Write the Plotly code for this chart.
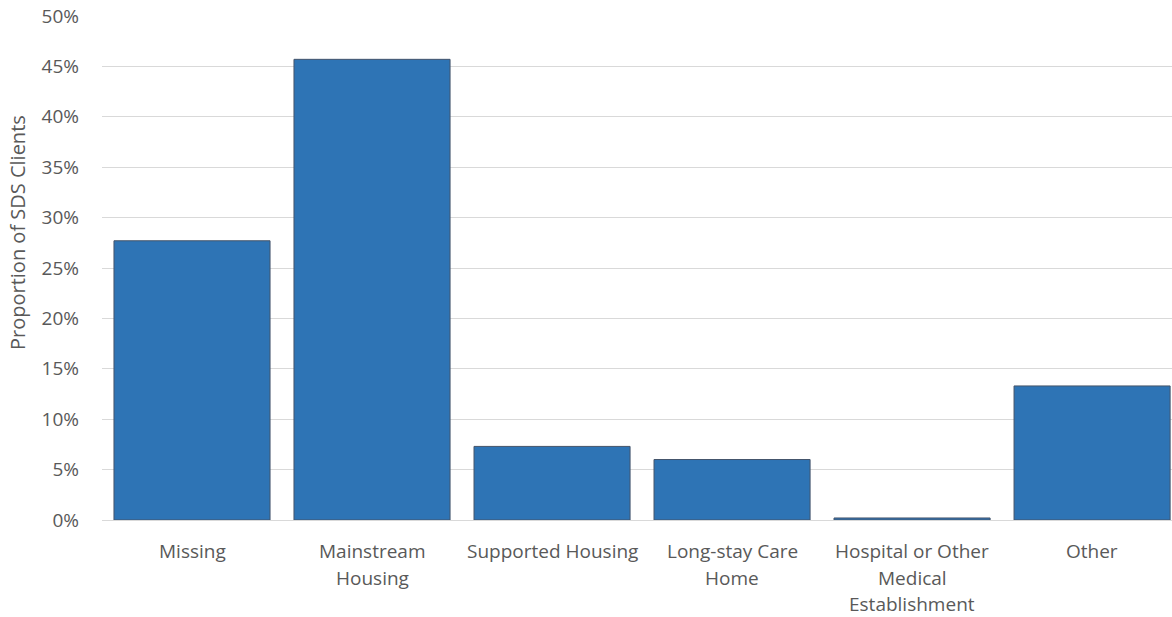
import plotly.graph_objects as go

# Accommodation type of SDS clients
categories = ["Missing", "Mainstream Housing", "Supported Housing",
              "Long-stay Care Home", "Hospital or Other Medical Establishment", "Other"]
label_lines = [["Missing"], ["Mainstream", "Housing"], ["Supported Housing"],
               ["Long-stay Care", "Home"], ["Hospital or Other", "Medical", "Establishment"],
               ["Other"]]
proportions = [0.277, 0.457, 0.073, 0.060, 0.002, 0.133]
y_ticks = [0, 0.05, 0.10, 0.15, 0.20, 0.25, 0.30, 0.35, 0.40, 0.45, 0.50]
y_tick_text = ["0%", "5%", "10%", "15%", "20%", "25%", "30%", "35%", "40%", "45%", "50%"]
y_title = "Proportion of SDS Clients"

FONT = "Open Sans"
TXT = "#595959"
SIZE = 19

TOP, BOTTOM, LEFT = 16, 97, 102
plot_h = 617 - TOP - BOTTOM

fig = go.Figure(go.Bar(
    x=categories,
    y=proportions,
    marker=dict(color="#2e74b5", line=dict(color="#44546a", width=1)),
    showlegend=False,
))

# Category labels, one annotation per line for wider line spacing
annotations = []
for cat, lines in zip(categories, label_lines):
    for i, line in enumerate(lines):
        annotations.append(dict(
            x=cat, xref="x", y=(-31 - 26.5 * i) / plot_h, yref="paper",
            text=line, showarrow=False,
            font=dict(family=FONT, size=SIZE, color=TXT),
            xanchor="center", yanchor="middle",
        ))

# Rotated value-axis title
annotations.append(dict(
    x=17 - LEFT, xref="paper", xshift=0, y=(520 - 233) / plot_h, yref="paper",
    text=y_title, textangle=-90, showarrow=False,
    font=dict(family=FONT, size=20, color=TXT),
    xanchor="center", yanchor="middle",
))
# x for the title is given in pixels relative to the plot's left edge
annotations[-1]["x"] = 0
annotations[-1]["xshift"] = 17 - LEFT

fig.update_layout(
    width=1172, height=617,
    margin=dict(l=LEFT, r=0, t=TOP, b=BOTTOM),
    paper_bgcolor="white", plot_bgcolor="white",
    bargap=0.133,
    font=dict(family=FONT, size=SIZE, color=TXT),
    annotations=annotations,
    xaxis=dict(
        range=[-0.5, 5.444], showticklabels=False, showgrid=False,
        showline=False, zeroline=False, fixedrange=True,
    ),
    yaxis=dict(
        range=[0, 0.5], tickvals=y_ticks, ticktext=y_tick_text,
        showgrid=True, gridcolor="#d9d9d9", gridwidth=1,
        zeroline=True, zerolinecolor="#d9d9d9", zerolinewidth=1,
        showline=False, ticks="", ticklabelstandoff=22,
        tickfont=dict(family=FONT, size=SIZE, color=TXT),
    ),
)

fig.write_html("out.html")
